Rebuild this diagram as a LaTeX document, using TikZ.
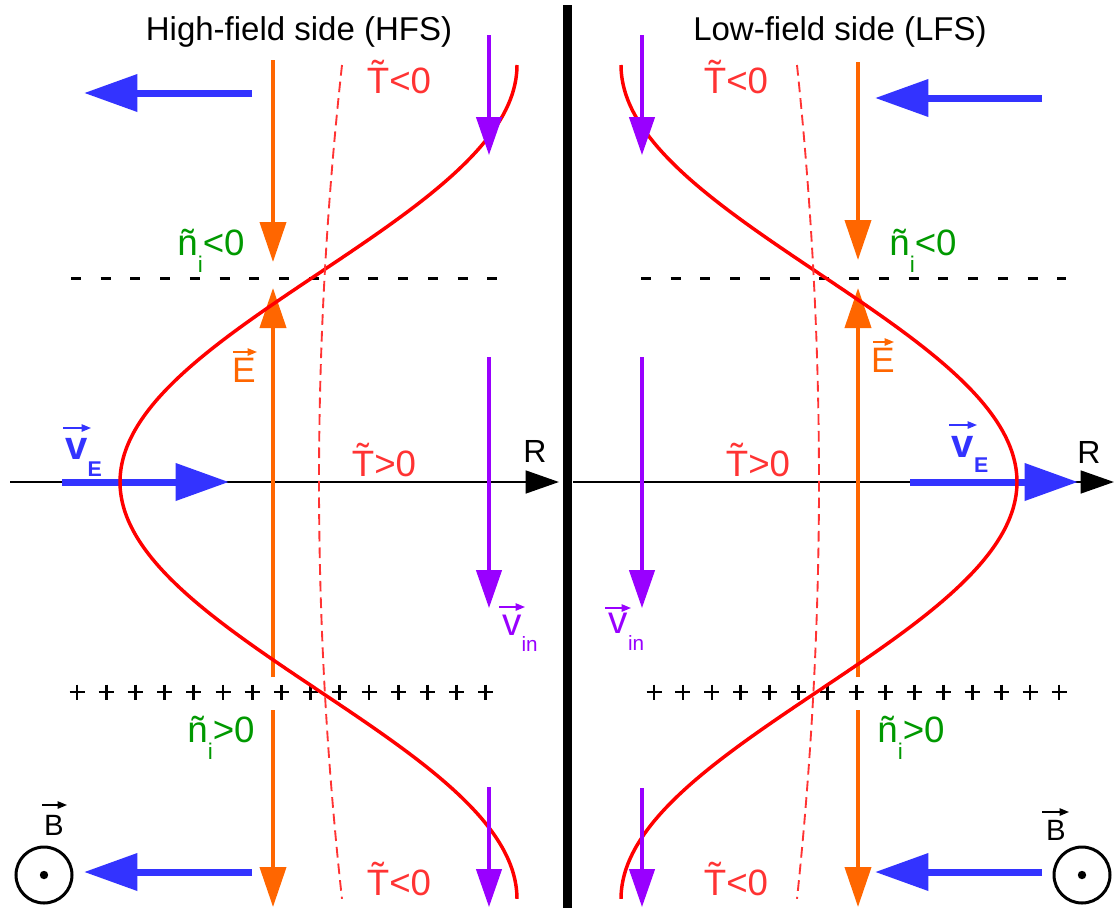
\documentclass[tikz,border=0pt]{standalone}
\usepackage{fontspec}
\setmainfont{Liberation Sans}
\usetikzlibrary{arrows.meta}
\definecolor{myblue}{HTML}{3333FF}
\definecolor{myorange}{HTML}{FF6600}
\definecolor{mypurple}{HTML}{9900FF}
\definecolor{myred}{HTML}{FF0000}
\definecolor{redtxt}{HTML}{FF3333}
\definecolor{mygreen}{HTML}{009900}
\newcommand\Ttil{{\ooalign{T\cr\hidewidth\raisebox{0.17em}{\char"02DC}\hidewidth\cr}}}
\newcommand\fs[1]{\fontsize{#1}{#1}\selectfont}
\tikzset{
  bluearr/.style={myblue, line width=5.25pt, -{Triangle[length=40pt,width=27pt]}},
  orarr/.style={myorange, line width=3pt, -{Triangle[length=30pt,width=19.5pt]}},
  purarr/.style={mypurple, line width=2.6pt, -{Triangle[length=28.5pt,width=19pt]}},
  axisarr/.style={black, line width=2pt, -{Triangle[length=25pt,width=17pt]}},
  vecarr/.style={line width=1.1pt, -{Triangle[length=7pt,width=5.5pt]}},
  blackdash/.style={black, line width=2.25pt, dash pattern=on 7.5pt off 14.8pt},
  plusst/.style={black, line width=2pt},
  redcurve/.style={myred, line width=2.6pt},
  reddash/.style={redtxt, line width=1.4pt, dash pattern=on 8pt off 4.5pt},
  lbl/.style={inner sep=0pt, anchor=base},
  title/.style={lbl, font=\fs{24.75pt}},
  tlab/.style={lbl, text=redtxt, font=\fs{27.5pt}},
  nlab/.style={lbl, text=mygreen, font=\fs{27.5pt}},
  elab/.style={lbl, text=myorange, font=\fs{26.5pt}},
  rlab/.style={lbl, font=\fs{24pt}},
  blab/.style={lbl, font=\fs{22pt}},
  vElab/.style={lbl, text=myblue, font=\fs{30pt}\bfseries},
  vilab/.style={lbl, text=mypurple, font=\fs{29pt}},
  bcirc/.style={circle, draw, line width=2.25pt, minimum size=42pt, inner sep=0pt},
}
\newcommand\nsub[2]{ñ\raisebox{-12.75pt}{\fs{17pt}i}#1#2}
\begin{document}
\begin{tikzpicture}[x=0.75pt,y=-0.75pt]
\useasboundingbox (0,0) rectangle (1115,908);
\fill[white] (0,0) rectangle (1115,908);

% ---------- coordinates ----------
\coordinate (axL1) at (10,482);   \coordinate (axL2) at (559,482);
\coordinate (axR1) at (573,482);  \coordinate (axR2) at (1114,482);
\coordinate (dL1) at (71,278);    \coordinate (dL2) at (498,278);
\coordinate (dR1) at (641,278);   \coordinate (dR2) at (1066,278);

% axes
\draw[axisarr] (axL1) -- (axL2);
\draw[axisarr] (axR1) -- (axR2);

% dashed lines and plus rows
\draw[blackdash] (dL1) -- (dL2);
\draw[blackdash] (dR1) -- (dR2);
\foreach \i in {0,...,14}{
  \draw[plusst] ({77+29.2*\i-7.5},692) -- ++(15,0) ({77+29.2*\i},684.5) -- ++(0,15);
  \draw[plusst] ({654+28.93*\i-7.5},692) -- ++(15,0) ({654+28.93*\i},684.5) -- ++(0,15);
}

% blue arrows
\coordinate (bL1a) at (252,93);  \coordinate (bL1b) at (84,93);
\coordinate (bL2a) at (62,482);  \coordinate (bL2b) at (229,482);
\coordinate (bL3a) at (252,872); \coordinate (bL3b) at (84,872);
\coordinate (bR1a) at (1042,98); \coordinate (bR1b) at (875,98);
\coordinate (bR2a) at (910,482); \coordinate (bR2b) at (1078,482);
\coordinate (bR3a) at (1042,872);\coordinate (bR3b) at (875,872);
\foreach \a in {bL1,bL2,bL3,bR1,bR2,bR3}{\draw[bluearr] (\a a) -- (\a b);}

% orange arrows
\coordinate (oL1a) at (273,60);  \coordinate (oL1b) at (273,262);
\coordinate (oL2a) at (273,677); \coordinate (oL2b) at (273,288);
\coordinate (oL3a) at (273,710); \coordinate (oL3b) at (273,907);
\coordinate (oR1a) at (858,62);  \coordinate (oR1b) at (858,260);
\coordinate (oR2a) at (858,677); \coordinate (oR2b) at (858,288);
\coordinate (oR3a) at (858,710); \coordinate (oR3b) at (858,907);
\foreach \a in {oL1,oL2,oL3,oR1,oR2,oR3}{\draw[orarr] (\a a) -- (\a b);}

% red curves
\draw[redcurve] plot[domain=-1:1,samples=121,smooth] ({318.5-198.5*cos(180*\x)},{482+417*\x});
\draw[redcurve] plot[domain=-1:1,samples=121,smooth] ({819+198*cos(180*\x)},{482+417*\x});
\draw[reddash] plot[domain=-1:1,samples=41,smooth] ({319+23*\x*\x},{482+417*\x});
\draw[reddash] plot[domain=-1:1,samples=41,smooth] ({819-22*\x*\x},{482+417*\x});

% purple arrows
\coordinate (pL1a) at (489,35);  \coordinate (pL1b) at (489,155);
\coordinate (pL2a) at (489,357); \coordinate (pL2b) at (489,608);
\coordinate (pL3a) at (489,787); \coordinate (pL3b) at (489,907);
\coordinate (pR1a) at (642,35);  \coordinate (pR1b) at (642,155);
\coordinate (pR2a) at (642,357); \coordinate (pR2b) at (642,608);
\coordinate (pR3a) at (642,788); \coordinate (pR3b) at (642,907);
\foreach \a in {pL1,pL2,pL3,pR1,pR2,pR3}{\draw[purarr] (\a a) -- (\a b);}

% B symbols
\node[bcirc] (cBL) at (44,875) {};
\node[bcirc] (cBR) at (1082,875) {};
\fill (cBL.center) circle[radius=4.2];
\fill (cBR.center) circle[radius=4.2];

% separator bar
\fill[black] (563,5) rectangle (572,908);

% ---------- texts ----------
\node[title] (tHFS) at (299,40) {High-field side (HFS)};
\node[title] (tLFS) at (840,40) {Low-field side (LFS)};

\node[tlab] (TL1) at (399,93) {\Ttil<0};
\node[tlab] (TL2) at (384,476) {\Ttil>0};
\node[tlab] (TL3) at (399,895) {\Ttil<0};
\node[tlab] (TR1) at (736,93) {\Ttil<0};
\node[tlab] (TR2) at (758,476) {\Ttil>0};
\node[tlab] (TR3) at (736,895) {\Ttil<0};

\node[nlab] (nL1) at (211,255) {\nsub<0};
\node[nlab] (nL2) at (221,742) {\nsub>0};
\node[nlab] (nR1) at (923,255) {\nsub<0};
\node[nlab] (nR2) at (911,742) {\nsub>0};

\node[elab] (EL) at (244,382) {E};
\node[elab] (ER) at (883,372) {E};
\coordinate (ELa) at (233,352); \coordinate (ELb) at (257,352);
\coordinate (ERa) at (873,342); \coordinate (ERb) at (894,342);
\draw[vecarr, myorange] (ELa) -- (ELb);
\draw[vecarr, myorange] (ERa) -- (ERb);

\node[vElab] (vEL) at (83.5,459) {v\raisebox{-12.75pt}{\fs{16pt}\bfseries E}};
\node[vElab] (vER) at (970,457) {v\raisebox{-11.25pt}{\fs{16pt}\bfseries E}};
\coordinate (vELa) at (63,428); \coordinate (vELb) at (91,428);
\coordinate (vERa) at (949,425); \coordinate (vERb) at (977,425);
\draw[vecarr, myblue] (vELa) -- (vELb);
\draw[vecarr, myblue] (vERa) -- (vERb);

\node[vilab] (viL) at (520,635) {v\raisebox{-12pt}{\fs{15.5pt}in}};
\node[vilab] (viR) at (626.5,633) {v\raisebox{-12.75pt}{\fs{15.5pt}in}};
\coordinate (viLa) at (499,607); \coordinate (viLb) at (525,607);
\coordinate (viRa) at (605,608); \coordinate (viRb) at (631,608);
\draw[vecarr, mypurple] (viLa) -- (viLb);
\draw[vecarr, mypurple] (viRa) -- (viRb);

\node[rlab] (RL) at (535,462) {R};
\node[rlab] (RR) at (1089,463) {R};

\node[blab] (BL) at (54,835) {B};
\node[blab] (BR) at (1056,840) {B};
\coordinate (BLa) at (42,805); \coordinate (BLb) at (67,805);
\coordinate (BRa) at (1042,812); \coordinate (BRb) at (1069,812);
\draw[vecarr, black] (BLa) -- (BLb);
\draw[vecarr, black] (BRa) -- (BRb);
\end{tikzpicture}
\end{document}
